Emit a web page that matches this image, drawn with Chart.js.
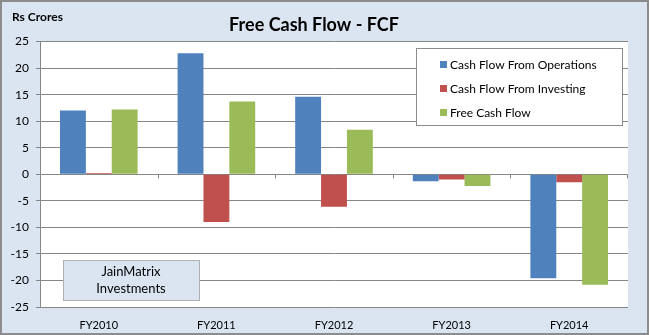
<!DOCTYPE html>
<html>
<head>
<meta charset="utf-8">
<script src="https://cdn.jsdelivr.net/npm/chart.js@4.4.1/dist/chart.umd.min.js"></script>
<style>
  html, body { margin: 0; padding: 0; background: #dbe5f1; }
  #wrap { width: 649px; height: 335px; }
</style>
</head>
<body>
<div id="wrap"><canvas id="fcfChart" width="649" height="335"></canvas></div>
<script>
// Data (Rs Crores)
var years = ['FY2010', 'FY2011', 'FY2012', 'FY2013', 'FY2014'];
var operations = [12.0, 22.8, 14.6, -1.3, -19.6];
var investing = [0.25, -9.0, -6.1, -1.0, -1.5];
var freeCash = [12.2, 13.7, 8.4, -2.2, -20.8];

var gridGray = '#868686';
var fontName = 'Lato, "Liberation Sans", sans-serif';

// background, plot area and outer frame
var framePlugin = {
    id: 'frame',
    beforeDraw: function(chart) {
        var c = chart.ctx, a = chart.chartArea;
        c.save();
        c.fillStyle = '#dbe5f1';
        c.fillRect(0, 0, chart.width, chart.height);
        c.fillStyle = '#ffffff';
        c.fillRect(a.left, a.top, a.right - a.left, a.bottom - a.top);
        c.restore();
    },
    afterDraw: function(chart) {
        var c = chart.ctx;
        c.save();
        c.strokeStyle = '#8c8c8c';
        c.lineWidth = 2;
        c.strokeRect(1, 1, chart.width - 2, chart.height - 2);
        // units label
        c.fillStyle = '#000';
        c.font = 'bold 12px ' + fontName;
        c.textBaseline = 'middle';
        c.fillText('Rs Crores', 12, 17);
        c.restore();
    }
};

// small tick marks on the zero line between categories
var zeroTicks = {
    id: 'zeroTicks',
    afterDatasetsDraw: function(chart) {
        var x = chart.scales.x, y = chart.scales.y, c = chart.ctx;
        var y0 = y.getPixelForValue(0);
        c.save();
        c.strokeStyle = gridGray;
        c.lineWidth = 1;
        for (var i = 0; i < years.length - 1; i++) {
            var px = Math.round((x.getPixelForValue(i) + x.getPixelForValue(i + 1)) / 2) + 0.5;
            c.beginPath();
            c.moveTo(px, y0);
            c.lineTo(px, y0 + 4);
            c.stroke();
        }
        var pr = chart.chartArea.right - 0.5;
        c.beginPath();
        c.moveTo(pr, y0);
        c.lineTo(pr, y0 + 4);
        c.stroke();
        c.restore();
    }
};

// boxed legend inside plot and the JainMatrix note
var boxLegend = {
    id: 'boxLegend',
    afterDraw: function(chart) {
        var c = chart.ctx;
        c.save();
        c.fillStyle = '#ffffff';
        c.fillRect(416.5, 48.5, 206, 77);
        c.strokeStyle = '#8c8c8c';
        c.lineWidth = 1;
        c.strokeRect(416.5, 48.5, 206, 77);
        c.font = '12px ' + fontName;
        c.textBaseline = 'middle';
        chart.data.datasets.forEach(function(ds, i) {
            var ty = 65 + i * 24;
            c.fillStyle = ds.backgroundColor;
            c.fillRect(440, ty - 4, 7, 7);
            c.fillStyle = '#000';
            c.fillText(ds.label, 450, ty);
        });

        c.fillStyle = '#dbe5f1';
        c.fillRect(63.5, 260.5, 136, 40);
        c.strokeStyle = '#b0b0b0';
        c.strokeRect(63.5, 260.5, 136, 40);
        c.fillStyle = '#000';
        c.font = '13px ' + fontName;
        c.textAlign = 'center';
        c.fillText('JainMatrix', 131, 272);
        c.fillText('Investments', 131, 289);
        c.restore();
    }
};

var ctx = document.getElementById('fcfChart').getContext('2d');

new Chart(ctx, {
    type: 'bar',
    data: {
        labels: years,
        datasets: [{
            label: 'Cash Flow From Operations',
            data: operations,
            backgroundColor: '#4f81bd'
        }, {
            label: 'Cash Flow From Investing',
            data: investing,
            backgroundColor: '#c0504d'
        }, {
            label: 'Free Cash Flow',
            data: freeCash,
            backgroundColor: '#9bbb59'
        }]
    },
    options: {
        responsive: false,
        animation: false,
        devicePixelRatio: 1,
        datasets: {
            bar: {
                categoryPercentage: 0.66,
                barPercentage: 1.0,
                borderWidth: 0
            }
        },
        layout: {
            padding: { top: 0, right: 21, bottom: 0, left: 0 }
        },
        plugins: {
            legend: { display: false },
            tooltip: { enabled: false },
            title: {
                display: true,
                text: 'Free Cash Flow - FCF',
                color: '#000',
                font: { family: fontName, size: 18, weight: 'bold' },
                padding: { top: 14, bottom: 6 }
            }
        },
        scales: {
            x: {
                grid: { display: false, drawTicks: false },
                border: { display: false },
                ticks: {
                    color: '#000',
                    padding: 12,
                    font: { family: fontName, size: 11 }
                },
                afterFit: function(scale) { scale.height = 28; }
            },
            y: {
                min: -25,
                max: 25,
                grid: {
                    color: gridGray,
                    lineWidth: 1,
                    tickLength: 4
                },
                border: { display: true, color: gridGray },
                ticks: {
                    stepSize: 5,
                    color: '#000',
                    padding: 7,
                    font: { family: fontName, size: 12 }
                },
                afterFit: function(scale) { scale.width = 40; }
            }
        }
    },
    plugins: [framePlugin, zeroTicks, boxLegend]
});
</script>
</body>
</html>
